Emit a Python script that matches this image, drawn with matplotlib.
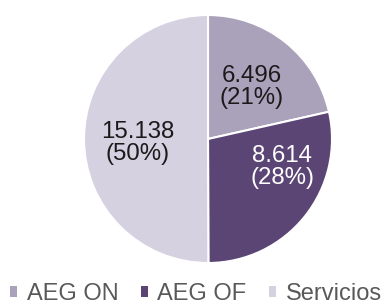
import matplotlib.pyplot as plt
from matplotlib.patches import Patch

plt.rcParams['font.family'] = ['Liberation Sans', 'DejaVu Sans']

categories = ['AEG ON', 'AEG OF', 'Servicios']
values = [6.496, 8.614, 15.138]
pct_labels = ['21%', '28%', '50%']
colors = ['#aaa2bb', '#5b4575', '#d6d1e0']
text_colors = ['#1a1a1a', 'white', '#1a1a1a']
# label positions inside the pie (radius = 1)
label_pos = [(0.355, 0.42), (0.60, -0.225), (-0.57, -0.03)]

fig = plt.figure(figsize=(3.82, 3.06), dpi=100)
ax = fig.add_axes([84 / 382, 43 / 306, 248 / 382, 248 / 306])

wedges, _ = ax.pie(values, colors=colors, startangle=90, counterclock=False,
                   wedgeprops=dict(edgecolor='white', linewidth=1.5))
ax.set_xlim(-1, 1)
ax.set_ylim(-1, 1)
ax.set_aspect('equal')

for v, p, c, pos in zip(values, pct_labels, text_colors, label_pos):
    txt = f'{v:.3f}\n({p})'
    ax.text(pos[0], pos[1], txt, ha='center', va='center', color=c,
            fontsize=17.3, linespacing=1.02, multialignment='center')

handles = [Patch(facecolor=c, edgecolor='none') for c in colors]
fig.legend(handles, categories, loc='center', bbox_to_anchor=(196 / 382, 1 - 294 / 306),
           ncol=3, frameon=False, fontsize=17, handlelength=0.3, handleheight=0.3,
           handletextpad=0.4, columnspacing=0.95, labelcolor='#595959',
           borderpad=0, borderaxespad=0)

fig.savefig('out.png', dpi=100)
